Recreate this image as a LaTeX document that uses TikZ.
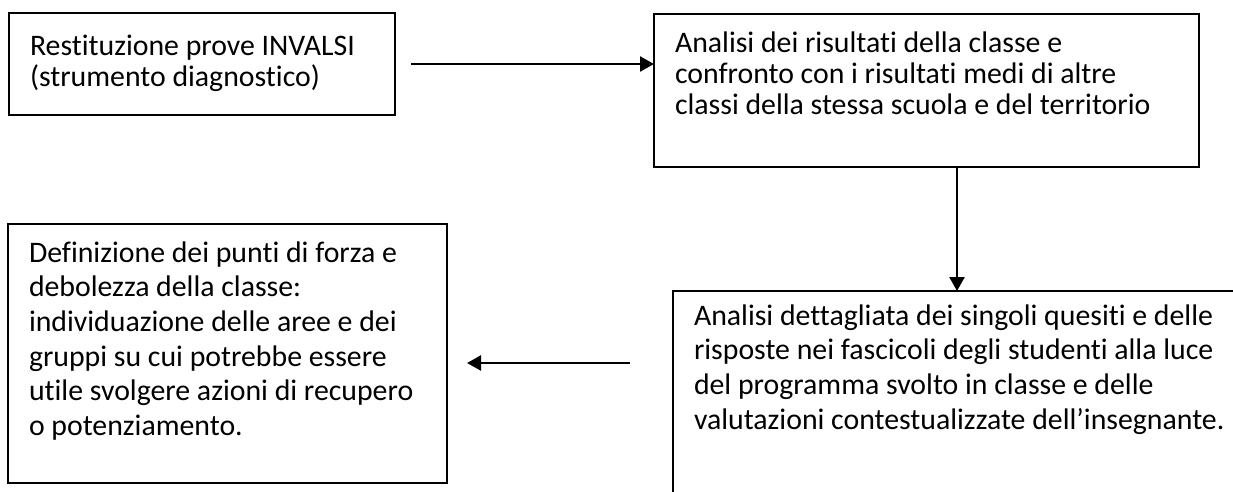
\documentclass[tikz,border=0pt]{standalone}
\usepackage{fontspec}
\setmainfont[Ligatures=NoCommon]{Carlito}
\usetikzlibrary{arrows.meta}
\newcommand{\testo}[4]{\parbox[t][#2][t]{#1}{\vspace*{#3}\raggedright\strut #4}}

\begin{document}
\begin{tikzpicture}[x=1pt, y=-1pt, line join=miter, >={Triangle[length=14pt,width=15pt]}]
	\tikzset{riquadro/.style={draw, line width=1.2pt, anchor=north west, inner xsep=21pt, inner ysep=0pt, outer sep=0pt, font=\fontsize{29.8}{34.6}\selectfont},
		freccia/.style={->, line width=2.4pt}}
	\useasboundingbox (0,0) rectangle (1233,491);
	%Riquadri
	\node[riquadro, font=\fontsize{29.8}{31.5}\selectfont] (restituzione) at (9,13)
		{\testo{344pt}{102pt}{20pt}{Restituzione prove INVALSI\\(strumento diagnostico)}};
	\node[riquadro, font=\fontsize{29.8}{31}\selectfont] (analisi) at (654,14)
		{\testo{503pt}{153pt}{17pt}{Analisi dei risultati della classe e\\confronto con i risultati medi di altre\\classi della stessa scuola e del territorio}};
	\node[riquadro] (dettaglio) at (673,291)
		{\testo{658pt}{300pt}{10pt}{Analisi dettagliata dei singoli quesiti e delle\\risposte nei fascicoli degli studenti alla luce\\del programma svolto in classe e delle\\valutazioni contestualizzate dell’insegnante.}};
	\node[riquadro] (definizione) at (8,224)
		{\testo{397pt}{259pt}{14pt}{Definizione dei punti di forza e\\debolezza della classe:\\individuazione delle aree e dei\\gruppi su cui potrebbe essere\\utile svolgere azioni di recupero\\o potenziamento.}};
	%Frecce
	\coordinate (inizio1) at (411,64);
	\coordinate (asse) at (957,0);
	\coordinate (inizio3) at (630,363);
	\coordinate (fine3) at (467,363);
	\draw[freccia] (inizio1) -- (inizio1 -| analisi.west);
	\draw[freccia] (analisi.south -| asse) -- (dettaglio.north -| asse);
	\draw[freccia] (inizio3) -- (fine3);
\end{tikzpicture}
\end{document}
